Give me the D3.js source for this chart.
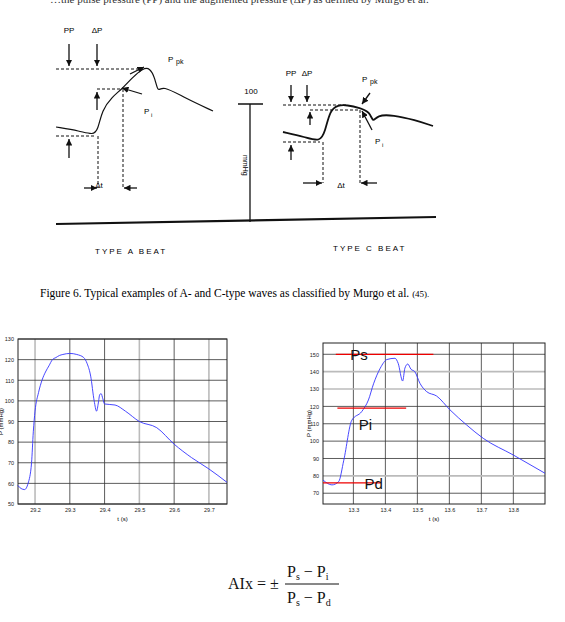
<!DOCTYPE html>
<html><head><meta charset="utf-8">
<script src="https://cdn.jsdelivr.net/npm/d3@7"></script>
<style>body{margin:0;background:#fff}</style>
</head><body>
<script>
// left waveform (t in s, P in mmHg)
var leftT = [29.15,29.16,29.17,29.18,29.19,29.195,29.20,29.21,29.22,29.23,29.24,29.25,29.26,29.27,29.28,29.30,29.32,29.34,29.35,29.36,29.37,29.377,29.382,29.386,29.39,29.395,29.40,29.43,29.46,29.50,29.55,29.60,29.65,29.70,29.752]
var leftP = [59,57.5,57,60,70,85,95,104,110,114,117,120,121,122,122.5,123,122.5,121,118,112,100,95,99,103,103.5,101,98.5,98,95,90,87,79,72.5,67,60.5]
var leftXTicks = [29.2,29.3,29.4,29.5,29.6,29.7]
var leftYTicks = [50,60,70,80,90,100,110,120,130]

// right waveform
var rightT = [13.205,13.233,13.254,13.27,13.295,13.326,13.347,13.363,13.384,13.405,13.43,13.44,13.454,13.461,13.47,13.48,13.492,13.508,13.529,13.56,13.602,13.654,13.706,13.8,13.899]
var rightP = [77.6,74.8,76.7,89,112,117,123.7,133,142,147,147.7,144.8,134.6,142,144.4,141.4,140,133.3,128.5,126,118,109.3,101.6,92,81.5]
var rightXTicks = [13.3,13.4,13.5,13.6,13.7,13.8]
var rightYTicks = [70,80,90,100,110,120,130,140,150]
var refNames = ['Ps','Pi','Pd']
var refLevels = [150,119,76]
var refFrom = [13.245,13.25,13.205]
var refTo = [13.55,13.465,13.384]
var refLabelT = [13.29,13.317,13.335]
var refLabelP = [150,110,76]

var svg = d3.select('body').append('svg').attr('width',565).attr('height',622)
  .style('font-family','Arial, Liberation Sans, sans-serif')

// ---------- top scanned illustration ----------
var ill = svg.append('g').attr('stroke','#111').attr('fill','none')
var line = d3.line().curve(d3.curveBasis)
var curveA = [[56,127],[80,131],[93,135],[98,130],[102,110],[112,97],[122,89],[132,78],[143,68],[150,68],[155,78],[158,93],[162,85],[185,98],[213,111]]
var curveC = [[283,132],[305,137],[320,142],[325,132],[330,110],[338,105],[347,105],[360,108],[370,112],[373,123],[377,115],[393,115],[415,120],[433,126]]
ill.append('path').attr('d',line(curveA)).attr('stroke-width',1.2)
ill.append('path').attr('d',line(curveC)).attr('stroke-width',1.8)
var dashed = [[56,69,143,69],[97,89,122,89],[56,136,96,136],[98,136,98,188],[123,89,123,188],
  [283,105,347,105],[310,110,360,110],[283,142,320,142],[323,142,323,183],[360,110,360,183]]
dashed.forEach(function(d){ ill.append('line').attr('x1',d[0]).attr('y1',d[1]).attr('x2',d[2]).attr('y2',d[3]).attr('stroke-dasharray','3,2') })
svg.append('defs').append('marker').attr('id','ah').attr('viewBox','0 0 10 10').attr('refX',10).attr('refY',5)
  .attr('markerWidth',5).attr('markerHeight',5).attr('orient','auto').append('path').attr('d','M0,0L10,5L0,10z').attr('fill','#111')
var arrows = [[69,44,69,66],[97,44,97,66],[97,110,97,92],[69,158,69,139],[84,188,97,188],[137,188,124,188],[130,74,144,67],[142,94,122,88],
  [291,85,291,102],[307,85,307,102],[310,125,310,112],[291,160,291,145],[303,183,322,183],[377,183,361,183],[370,93,362,104],[372,130,362,111]]
arrows.forEach(function(d){ ill.append('line').attr('x1',d[0]).attr('y1',d[1]).attr('x2',d[2]).attr('y2',d[3]).attr('stroke-width',1.3).attr('marker-end','url(#ah)') })
ill.append('line').attr('x1',56).attr('y1',224).attr('x2',436).attr('y2',217).attr('stroke-width',2.2)
ill.append('line').attr('x1',250).attr('y1',104).attr('x2',250).attr('y2',222).attr('stroke-width',1.3)
ill.append('line').attr('x1',238).attr('y1',104).attr('x2',263).attr('y2',104).attr('stroke-width',1.5)
var labels = [['PP',69,33],['ΔP',97,33],['P',168,62],['PP',291,76],['ΔP',307,76],['P',362,82],['Δt',99,188],['Δt',341,188]]
labels.forEach(function(d){ svg.append('text').attr('x',d[1]).attr('y',d[2]).attr('font-size',8).attr('text-anchor', d[0]=='P'?'start':'middle').text(d[0]) })
svg.append('text').attr('x',176).attr('y',64).attr('font-size',7).text('pk')
svg.append('text').attr('x',370).attr('y',84).attr('font-size',7).text('pk')
svg.append('text').attr('x',144).attr('y',114).attr('font-size',8).text('P')
svg.append('text').attr('x',151).attr('y',117).attr('font-size',6).text('i')
svg.append('text').attr('x',375).attr('y',144).attr('font-size',8).text('P')
svg.append('text').attr('x',382).attr('y',147).attr('font-size',6).text('i')
svg.append('text').attr('x',251).attr('y',94).attr('font-size',8).attr('text-anchor','middle').text('100')
svg.append('text').attr('transform','translate(243,155) rotate(90)').attr('font-size',7).text('mmHg')
svg.append('text').attr('x',95).attr('y',254).attr('font-size',8).attr('letter-spacing',2).text('TYPE A BEAT')
svg.append('text').attr('x',333).attr('y',251).attr('font-size',8).attr('letter-spacing',2).text('TYPE C BEAT')
svg.append('text').attr('x',40).attr('y',297).attr('font-size',11.5).attr('font-family','Liberation Serif, serif')
  .text('Figure 6. Typical examples of A- and C-type waves as classified by Murgo et al. ').append('tspan').attr('font-size',9).text('(45).')
svg.append('text').attr('x',50).attr('y',3).attr('font-size',11).attr('font-family','Liberation Serif, serif').attr('fill','#333')
  .text('…the pulse pressure (PP) and the augmented pressure (ΔP) as defined by Murgo et al.')

// ---------- charts ----------
function chart(o){
  var x = d3.scaleLinear().domain(o.xd).range([o.x0,o.x1])
  var y = d3.scaleLinear().domain(o.yd).range([o.y1,o.y0])
  var g = svg.append('g')
  g.selectAll('.vg').data(o.xt).enter().append('line')
    .attr('x1',x).attr('x2',x).attr('y1',o.y0).attr('y2',o.y1)
    .attr('stroke',function(d,i){return o.greyX.indexOf(i)>=0?'#bbb':'#333'}).attr('stroke-width',function(d,i){return o.greyX.indexOf(i)>=0?1.6:0.8})
  g.selectAll('.hg').data(o.yt).enter().append('line')
    .attr('y1',y).attr('y2',y).attr('x1',o.x0).attr('x2',o.x1)
    .attr('stroke',function(d,i){return o.greyY.indexOf(i)>=0?'#bbb':'#333'}).attr('stroke-width',function(d,i){return o.greyY.indexOf(i)>=0?1.6:0.8})
  g.append('rect').attr('x',o.x0).attr('y',o.y0).attr('width',o.x1-o.x0).attr('height',o.y1-o.y0).attr('fill','none').attr('stroke','#222')
  var ax = g.append('g').attr('transform','translate(0,'+o.y1+')').call(d3.axisBottom(x).tickValues(o.xt).tickSize(0).tickPadding(4).tickFormat(d3.format('.1f')))
  var ay = g.append('g').attr('transform','translate('+o.x0+',0)').call(d3.axisLeft(y).tickValues(o.yt).tickSize(0).tickPadding(4))
  ;[ax,ay].forEach(function(a){ a.select('.domain').remove(); a.selectAll('text').attr('font-size',5.5).attr('fill','#222') })
  g.append('text').attr('x',(o.x0+o.x1)/2).attr('y',o.y1+17).attr('text-anchor','middle').attr('font-size',6).text('t (s)')
  g.append('text').attr('transform','translate('+o.yl+','+((o.y0+o.y1)/2)+') rotate(-90)').attr('text-anchor','middle').attr('font-size',6).text('P (mmHg)')
  g.append('path').datum(o.t.map(function(t,i){return [t,o.p[i]]}))
    .attr('d',d3.line().x(function(d){return x(d[0])}).y(function(d){return y(d[1])}).curve(d3.curveMonotoneX))
    .attr('fill','none').attr('stroke','#3333ff').attr('stroke-width',0.9)
  return {x:x,y:y,g:g}
}
chart({x0:18,x1:227,y0:339,y1:504,xd:[29.151,29.752],yd:[50,130],xt:leftXTicks,yt:leftYTicks,
  greyX:[0,3,5],greyY:[],t:leftT,p:leftP,yl:3})
var r = chart({x0:323,x1:545,y0:343,y1:504,xd:[13.205,13.899],yd:[63.8,156.5],xt:rightXTicks,yt:rightYTicks,
  greyX:[],greyY:[1,6,7],t:rightT,p:rightP,yl:311})
refNames.forEach(function(n,i){
  r.g.append('line').attr('x1',r.x(refFrom[i])).attr('x2',r.x(refTo[i])).attr('y1',r.y(refLevels[i])).attr('y2',r.y(refLevels[i]))
    .attr('stroke','#e00').attr('stroke-width',1.2)
  r.g.append('text').attr('x',r.x(refLabelT[i])).attr('y',r.y(refLabelP[i])+6).attr('font-size',15).attr('fill','#111').text(n)
})

// ---------- formula ----------
var f = svg.append('g').attr('font-family','Liberation Serif, serif').attr('fill','#111')
f.append('text').attr('x',228).attr('y',589).attr('font-size',16).text('AIx = ±')
f.append('line').attr('x1',285).attr('x2',339).attr('y1',584).attr('y2',584).attr('stroke','#111')
var num = f.append('text').attr('x',287).attr('y',577).attr('font-size',16).text('P')
num.append('tspan').attr('font-size',10).attr('dy',3).text('s')
num.append('tspan').attr('dy',-3).text(' − P')
num.append('tspan').attr('font-size',10).attr('dy',3).text('i')
var den = f.append('text').attr('x',287).attr('y',603).attr('font-size',16).text('P')
den.append('tspan').attr('font-size',10).attr('dy',3).text('s')
den.append('tspan').attr('dy',-3).text(' − P')
den.append('tspan').attr('font-size',10).attr('dy',3).text('d')
</script>
</body></html>
